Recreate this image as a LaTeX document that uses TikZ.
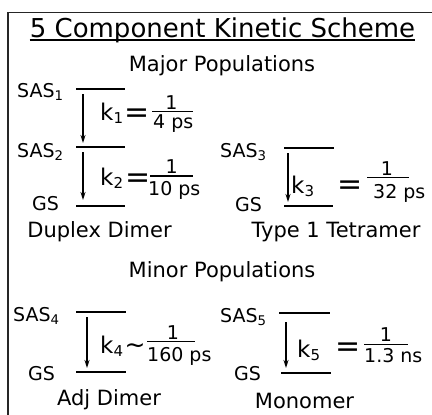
\documentclass[tikz,border=0pt]{standalone}
\usepackage{fontspec}
\setmainfont{DejaVu Sans}
\usetikzlibrary{arrows.meta}
\newcommand{\ptsize}[1]{\fontsize{#1}{#1}\selectfont}
\newcommand{\ksub}[1]{\raisebox{-3pt}{\ptsize{15}#1}}

\begin{document}
\begin{tikzpicture}[x=1pt, y=-1pt,
	txt/.style={inner sep=0pt, anchor=base},
	heading/.style={txt, font=\ptsize{21}},
	state/.style={inner sep=0pt, anchor=base west, font=\ptsize{19}},
	rate/.style={inner sep=0pt, anchor=base west, font=\ptsize{23}},
	rel/.style={txt, font=\ptsize{30}},
	frac/.style={inner sep=0pt, font=\ptsize{19}},
	level/.style={line width=2pt},
	decay/.style={line width=1.5pt, -{Stealth[length=8pt, width=5pt]}},
	fracbar/.style={line width=1.3pt}]
	\useasboundingbox (0, 0) rectangle (432, 415);
	\draw [line width=1.5pt, black!85] (8, 415) -- (8, 12.5) -- (432, 12.5);

	% headings
	\node [txt, font=\ptsize{26}] (title) at (222.5, 37.5) {5 Component Kinetic Scheme};
	\draw [line width=1.3pt] ([yshift=-2.5pt]title.base west) -- ([yshift=-2.5pt]title.base east);
	\node [heading] (major) at (222, 71.5) {Major Populations};
	\node [heading] (minor) at (222, 277) {Minor Populations};
	\node [heading] (duplex) at (99.5, 237) {Duplex Dimer};
	\node [heading] (tetramer) at (336, 237) {Type 1 Tetramer};
	\node [heading] (adjdimer) at (109, 405) {Adj Dimer};
	\node [heading] (monomer) at (304.5, 408) {Monomer};

	% energy levels
	\draw [level] (76, 89) coordinate (sas1) -- ++(49, 0);
	\draw [level] (76, 147) coordinate (sas2) -- ++(49, 0);
	\draw [level] (76, 206) coordinate (gs2) -- ++(49, 0);
	\draw [level] (284, 148) coordinate (sas3) -- ++(50, 0);
	\draw [level] (284, 206) coordinate (gs3) -- ++(49, 0);
	\draw [level] (76, 312) coordinate (sas4) -- ++(50, 0);
	\draw [level] (76, 372) coordinate (gs4) -- ++(50, 0);
	\draw [level] (279, 313) coordinate (sas5) -- ++(51, 0);
	\draw [level] (281, 373) coordinate (gs5) -- ++(50, 0);

	\node [state] (lsas1) at (17, 97) {SAS\textsubscript{1}};
	\node [state] (lsas2) at (17, 157) {SAS\textsubscript{2}};
	\node [state] (lgs2) at (32, 210) {GS};
	\node [state] (lsas3) at (220, 157) {SAS\textsubscript{3}};
	\node [state] (lgs3) at (235, 211) {GS};
	\node [state] (lsas4) at (13, 321) {SAS\textsubscript{4}};
	\node [state] (lgs4) at (28, 380) {GS};
	\node [state] (lsas5) at (220, 322) {SAS\textsubscript{5}};
	\node [state] (lgs5) at (234, 380) {GS};

	% decays
	\draw [decay] ([shift={(7, 5)}]sas1) -- ([shift={(7, -4)}]sas2);
	\draw [decay] ([shift={(7, 5)}]sas2) -- ([shift={(7, -6)}]gs2);
	\draw [decay] ([shift={(4, 5)}]sas3) -- ([shift={(4, -4)}]gs3);
	\draw [decay] ([shift={(11, 5)}]sas4) -- ([shift={(11, -4)}]gs4);
	\draw [decay] ([shift={(7, 9)}]sas5) -- ([shift={(5, -5)}]gs5);

	% rate constants
	\node [rate] (k1) at (100, 120) {k\ksub{1}};
	\node [rel] (eq1) at (137.5, 122) {=};
	\node [frac, anchor=base] (num1) at (171.5, 109) {1};
	\draw [fracbar] (152, 111.5) -- (193, 111.5);
	\node [frac, anchor=base west] (den1) at (153, 128.3) {4 ps};

	\node [rate] (k2) at (100, 185) {k\ksub{2}};
	\node [rel] (eq2) at (138, 187.5) {=};
	\node [frac, anchor=base] (num2) at (171.7, 173.5) {1};
	\draw [fracbar] (150, 176) -- (193, 176);
	\node [frac, anchor=base west] (den2) at (148, 195) {10 ps};

	\node [rate] (k3) at (291, 193) {k\ksub{3}};
	\node [rel] (eq3) at (350, 194.5) {=};
	\node [frac, anchor=base] (num3) at (387, 175.2) {1};
	\draw [fracbar] (367, 177.7) -- (409, 177.7);
	\node [frac, anchor=base west] (den3) at (373, 198) {32 ps};

	\node [rate] (k4) at (100, 353) {k\ksub{4}};
	\node [txt, font=\ptsize{25}] (sim4) at (135, 353) {\char`\~};
	\node [frac, anchor=base] (num4) at (173, 339.2) {1};
	\draw [fracbar] (147, 341.7) -- (195, 341.7);
	\node [frac, anchor=base west] (den4) at (147, 361) {160 ps};

	\node [rate] (k5) at (297, 357) {k\ksub{5}};
	\node [rel] (eq5) at (348.5, 356) {=};
	\node [frac, anchor=base] (num5) at (386, 341.8) {1};
	\draw [fracbar] (364, 344.3) -- (408, 344.3);
	\node [frac, anchor=base west] (den5) at (364, 362) {1.3 ns};
\end{tikzpicture}
\end{document}
